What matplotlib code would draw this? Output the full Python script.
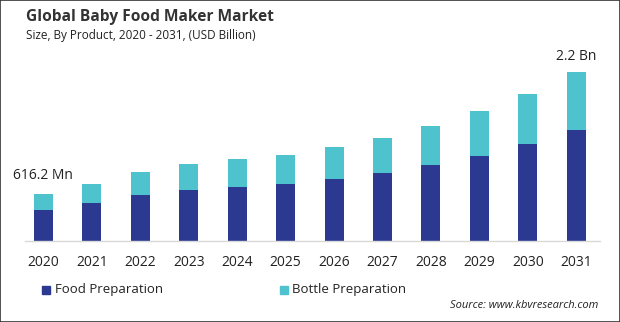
import matplotlib.pyplot as plt
from matplotlib.patches import Rectangle

plt.rcParams['font.family'] = ['Open Sans', 'DejaVu Sans']

years = ['2020', '2021', '2022', '2023', '2024', '2025',
         '2026', '2027', '2028', '2029', '2030', '2031']
food_prep = [0.404, 0.495, 0.599, 0.664, 0.703, 0.742,
             0.807, 0.885, 0.990, 1.107, 1.263, 1.445]
bottle_prep = [0.212, 0.247, 0.299, 0.339, 0.365, 0.378,
               0.417, 0.456, 0.507, 0.586, 0.651, 0.755]
first_label = '616.2 Mn'
last_label = '2.2 Bn'

dark = '#2b3990'
teal = '#4fc3cd'

fig = plt.figure(figsize=(6.2, 3.22), dpi=100)
ax = fig.add_axes([25 / 620, 1 - 241 / 322, 575 / 620, 181 / 322])

x = list(range(len(years)))
ax.bar(x, food_prep, width=0.39, color=dark)
ax.bar(x, bottle_prep, width=0.39, bottom=food_prep, color=teal)

ax.set_xlim(-0.38, 11.49)
ax.set_ylim(0, 2.357)
for s in ['top', 'right', 'left']:
    ax.spines[s].set_visible(False)
ax.spines['bottom'].set_color('#d9d9d9')
ax.spines['bottom'].set_linewidth(1.0)
ax.set_yticks([])
ax.set_xticks(x)
ax.set_xticklabels(years, fontsize=10, color='#222222')
ax.tick_params(axis='x', length=0, pad=10)

tot0 = food_prep[0] + bottle_prep[0]
tot1 = food_prep[-1] + bottle_prep[-1]
ax.annotate(first_label, (x[0], tot0), xytext=(0, 8), textcoords='offset points',
            ha='center', va='bottom', fontsize=10, color='#222222')
ax.annotate(last_label, (x[-1], tot1), xytext=(0, 6), textcoords='offset points',
            ha='center', va='bottom', fontsize=10, color='#222222')

fig.text(26 / 620, 1 - 17 / 322, 'Global Baby Food Maker Market', fontsize=11.2,
         fontweight='bold', color='#333333', va='center')
fig.text(26 / 620, 1 - 36 / 322, 'Size, By Product, 2020 - 2031, (USD Billion)',
         fontsize=8.5, color='#222222', va='center')

# legend drawn by hand to match placement
fig.patches.append(Rectangle((42 / 620, 1 - 294 / 322), 8 / 620, 8 / 322,
                             transform=fig.transFigure, color=dark))
fig.text(55 / 620, 1 - 290 / 322, 'Food Preparation', fontsize=9.5,
         color='#222222', va='center')
fig.patches.append(Rectangle((280 / 620, 1 - 294 / 322), 8 / 620, 8 / 322,
                             transform=fig.transFigure, color=teal))
fig.text(292 / 620, 1 - 290 / 322, 'Bottle Preparation', fontsize=9.5,
         color='#222222', va='center')
fig.text(598 / 620, 1 - 305 / 322, 'Source: www.kbvresearch.com', fontsize=8,
         style='italic', color='#222222', ha='right', va='center')

fig.patches.append(Rectangle((0, 0), 1, 1, transform=fig.transFigure,
                             fill=False, edgecolor='#333333', linewidth=1.2))

fig.savefig('out.png', dpi=100)
